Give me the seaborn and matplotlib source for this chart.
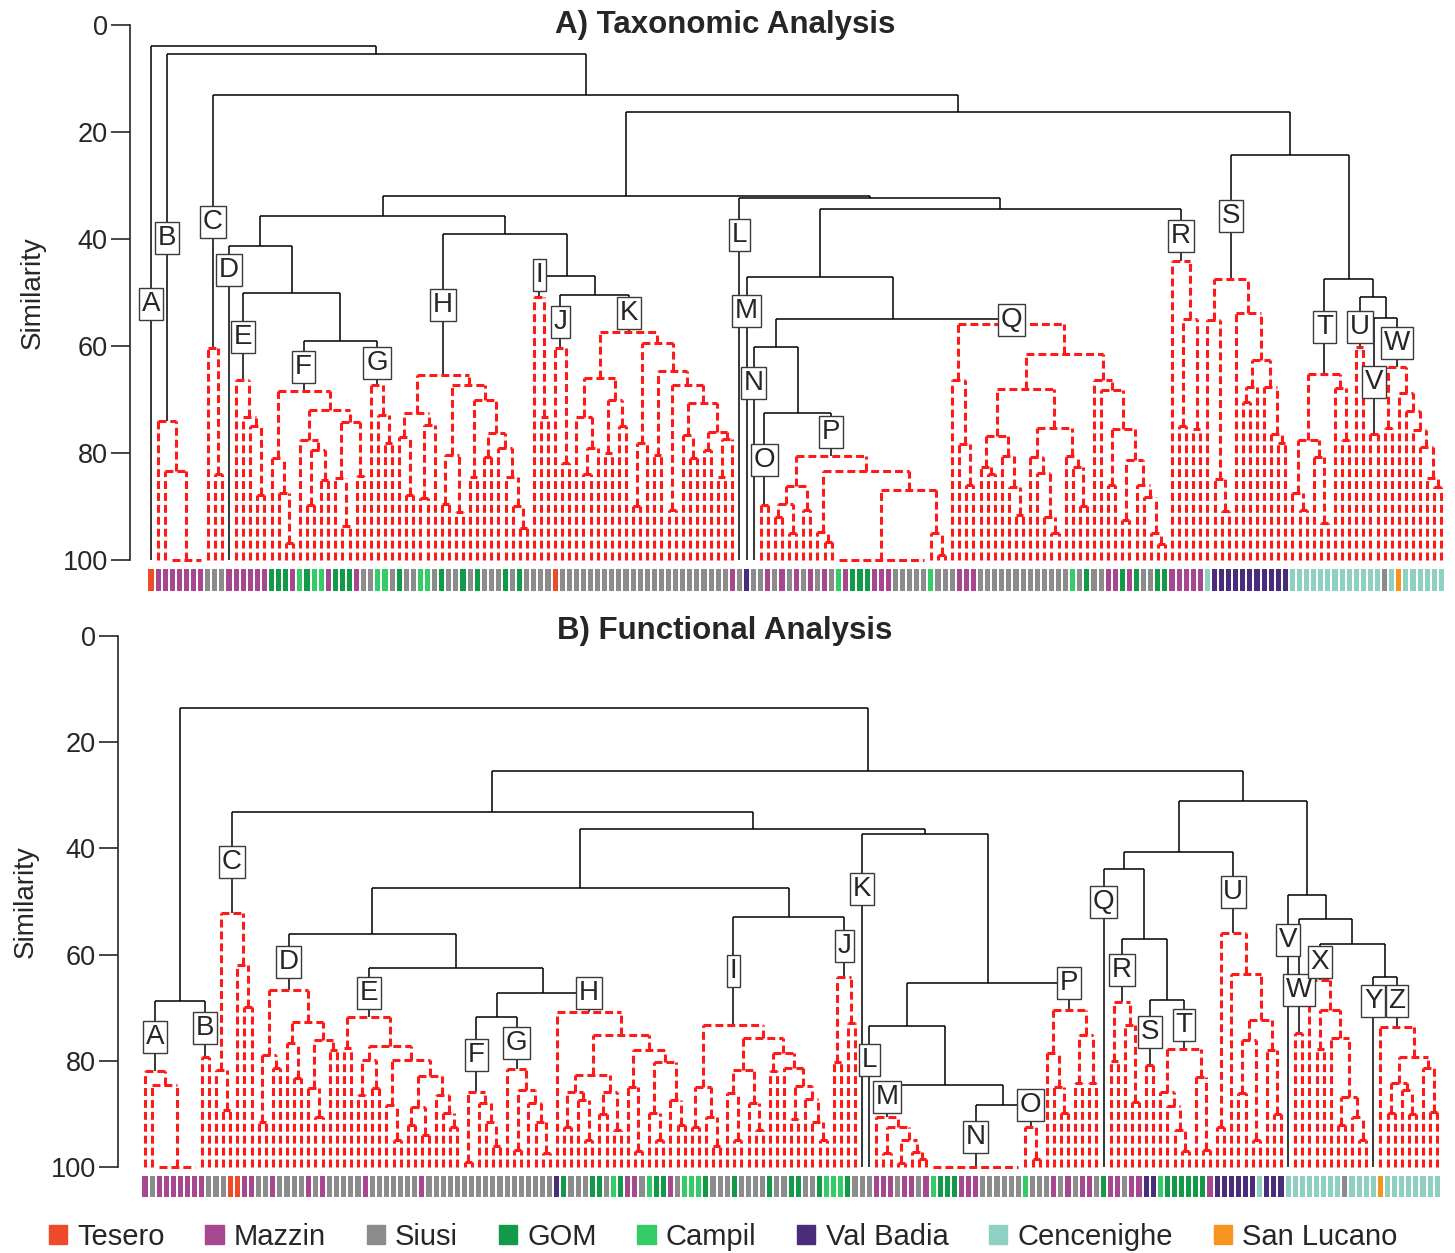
import numpy as np
import seaborn as sns
import matplotlib.pyplot as plt
from matplotlib.collections import LineCollection
from matplotlib.colors import ListedColormap
from matplotlib.patches import Patch

W, H = 1455, 1253

sites = ["Tesero", "Mazzin", "Siusi", "GOM", "Campil", "Val Badia", "Cencenighe", "San Lucano"]
site_codes = "TMSGCVEL"
site_colors = ["#EE4B2B", "#A6478F", "#8C8C8C", "#119A48", "#33CC66", "#4A2C7C", "#8ED0C2", "#F7941D"]

# ---- A) taxonomic dendrogram: groups left to right ----
tax_groups = list("ABCDEFGHIJKLMNOPQRSTUVW")
tax_sites = ["T", "MMMMMMM", "SSS", "M", "MMMMM", "GGGMCGCCMGGGMS", "SCCS",
             "GSSCCSGSSGSGSSSGSGS", "SSS", "TSS", "SSSSSSSSSSSSSSSSSSSSSSM",
             "S", "V", "S", "SM", "SMSMSMSMSCMGGGMMMSSSSSCSS",
             "SMMMSSSSSSSSSSSSSCSGSSMMGMGSSGG", "MMMMM", "EVVVVVVVVVVV",
             "EEEEEEEEE", "EE", "EE", "SELEEEEEE"]
# similarity at which neighbouring samples join, inside each group
tax_inner = [
    [],
    [74, 83.3, 100, 100, 100, 100],
    [60.3, 84],
    [],
    [66.4, 73.2, 75, 87.8],
    [81, 87.5, 96.9, 68.4, 77.6, 89.7, 79.5, 85, 72, 84.7, 93.6, 74.2, 84.3],
    [67.3, 72.9, 78.2],
    [77, 87.8, 72.6, 88.4, 74.7, 65.4, 89.5, 80.4, 91, 67.3, 84.4, 70, 80.7, 76.3, 79, 84.4, 90, 94],
    [50.8, 73.2],
    [60.4, 81.9],
    [73.2, 84, 79, 66, 80, 70, 75, 57.3, 90, 78.1, 59.5, 80.3, 64.6, 90.7, 67.3, 76.6, 81, 70.7,
     79.4, 76, 84.5, 77.3],
    [], [], [],
    [89.7],
    [92, 89.5, 94.9, 86.2, 90.7, 80.6, 94.7, 96.6, 83.3, 100, 100, 100, 100, 100, 100, 100, 100,
     100, 100, 100, 100, 86.9, 95, 99],
    [66.4, 78.4, 86, 55.9, 82.6, 84, 76.9, 80.6, 86.3, 91.6, 68.1, 80.7, 83.8, 91.9, 95, 75.4,
     80.6, 82.6, 90, 61.5, 66.4, 68.2, 86, 75.5, 92.5, 81.4, 86, 88.3, 94.9, 97],
    [44.2, 75, 55, 75.5],
    [55.1, 84.8, 90.9, 47.5, 53.9, 70.5, 67.6, 62.6, 67.6, 76.4, 78.2],
    [87.5, 90.6, 77.6, 80.7, 93, 65.2, 67.9, 77.6],
    [60.1],
    [76.4],
    [75.3, 63.9, 68.7, 72.1, 75.7, 78.8, 84.7, 86.3],
]
# similarity at which consecutive groups join
tax_between = [3.9, 5.4, 13.1, 41.3, 50.1, 59.1, 35.7, 39.1, 46.9, 50.5, 32.0, 32.3,
               47.1, 60.2, 72.5, 55.0, 34.4, 16.3, 24.3, 47.5, 50.8, 54.8]
tax_label_y = [52.1, 39.8, 36.8, 45.8, 58.3, 63.9, 63.2, 52.3, 46.7, 55.5, 53.8, 39.3,
               53.5, 66.9, 81.3, 76.1, 55.1, 39.4, 35.7, 56.4, 56.4, 66.7, 59.4]

# ---- B) functional dendrogram ----
fun_groups = list("ABCDEFGHIJKLMNOPQRSTUVWXYZ")
fun_sites = ["MSMMMMMM", "MS", "SSTTMM", "SSMSSSSMSMSS", "SSSMSSSSSSSMSSSSS", "SSSSSS",
             "SSSSSSS", "VGSSSGGSCGMMSCGGMSC", "CCGSSSGSSSSGSSGGSSGC", "CCGS", "S", "S",
             "MMMSMMSM", "CGGGMMMSSSSSS", "CSS", "SMSMSMMS", "G", "MMSMM", "VV", "CGGGGGGM",
             "VVVVVVEVVV", "E", "EE", "EEEEESEEE", "E", "LEEEEEEEE"]
fun_inner = [
    [82, 84.6, 100, 100, 100, 100, 100],
    [79.3],
    [81.7, 89.2, 52.2, 62, 69.9],
    [91.5, 78.9, 81.4, 66.7, 76.7, 83.3, 72.6, 85.2, 90.6, 76.1, 77.9],
    [77.6, 71.7, 86.5, 79.8, 85.2, 77.2, 88.4, 95, 79.8, 92, 88.7, 94, 82.9, 86.5, 89.9, 92.4],
    [99, 85.8, 88, 91.5, 96.1],
    [81.6, 96.8, 85.5, 88, 91.5, 97.4],
    [70.8, 92.4, 85.8, 87.3, 95, 82.7, 90, 85.8, 93, 75.2, 84.9, 97, 78, 89.9, 95, 80.2, 87.3, 92],
    [92.4, 84.9, 90.5, 96, 73.3, 86, 95, 81.7, 88, 93, 75.8, 82, 78.6, 81.3, 91, 84.7, 87.2, 91.5, 95],
    [80.2, 64.2, 72.9],
    [], [],
    [90.5, 97.4, 92.4, 99.3, 94.9, 97.1, 98.5],
    [100, 100, 100, 100, 100, 100, 100, 100, 100, 100, 100, 100],
    [92.4, 98.4],
    [78.6, 84.9, 89.9, 70.4, 84.2, 75.1, 84.2],
    [],
    [80.1, 68.9, 73.2, 87.7],
    [80.7],
    [85.8, 88.5, 93, 97, 77.8, 83, 96.8],
    [92.4, 56, 63.7, 86, 76, 95, 72.3, 78, 90],
    [],
    [74.8],
    [64.7, 77.8, 70.5, 75.8, 92.1, 86.8, 90.5, 95],
    [],
    [73.7, 89.9, 84.2, 85.5, 90, 79.3, 81.4, 89.6],
]
fun_between = [68.7, 13.6, 33.1, 56.1, 62.5, 71.8, 67.2, 47.5, 52.9, 36.3, 37.3, 73.4, 84.6,
               88.3, 65.3, 25.4, 43.9, 57.0, 68.5, 40.7, 31.1, 48.8, 53.3, 58.0, 64.2]
fun_label_y = [75.5, 73.8, 42.6, 61.4, 67.2, 78.9, 76.6, 67.2, 63.1, 58.4, 47.6, 79.8, 86.8,
               94.4, 88.3, 65.3, 50.1, 62.9, 74.6, 73.3, 48.2, 57.3, 66.7, 61.4, 68.7, 68.7]


def build(group_sites, inner, between):
    codes, gaps, gid = [], [], []
    for k, (s, g) in enumerate(zip(group_sites, inner)):
        if k:
            gaps.append(between[k - 1])
        codes.extend(site_codes.index(c) for c in s)
        gid.extend([k] * len(s))
        gaps.extend(g)
    return np.array(codes), np.array(gaps, float), np.array(gid)


def dendro(gaps, gid):
    black, red, stems = [], [], {}
    start = {g: np.flatnonzero(gid == g)[0] for g in np.unique(gid)}
    end = {g: np.flatnonzero(gid == g)[-1] for g in np.unique(gid)}

    def node(lo, hi):
        if lo == hi:
            x, h = float(lo), 100.0
        else:
            seg = gaps[lo:hi]
            h = seg.min()
            cuts = lo + 1 + np.flatnonzero(np.isclose(seg, h))
            edges = np.r_[lo, cuts, hi + 1]
            kids = [node(a, b - 1) for a, b in zip(edges[:-1], edges[1:])]
            x = (kids[0][0] + kids[-1][0]) / 2
            segs = red if gid[lo] == gid[hi] else black
            segs.append([(kids[0][0], h), (kids[-1][0], h)])
            segs.extend([(kx, kh), (kx, h)] for kx, kh in kids)
        if gid[lo] == gid[hi] and lo == start[gid[lo]] and hi == end[gid[hi]]:
            stems[gid[lo]] = x
        return x, h

    node(0, len(gid) - 1)
    return black, red, stems


sns.set_style("ticks")
plt.rcParams["font.family"] = ["Liberation Sans", "DejaVu Sans"]

fig = plt.figure(figsize=(W / 100, H / 100), dpi=100)


def px_axes(l, t, r, b):
    return fig.add_axes([l / W, 1 - b / H, (r - l) / W, (b - t) / H])


panels = [
    dict(names=tax_groups, sites=tax_sites, inner=tax_inner, between=tax_between,
         label_y=tax_label_y, title="A) Taxonomic Analysis", title_y=25,
         box=(130, 15, 1450, 565), x0=151, dx=7.09, y0=25, dy=5.35, strip=(568, 592),
         ylab=(46, 293)),
    dict(names=fun_groups, sites=fun_sites, inner=fun_inner, between=fun_between,
         label_y=fun_label_y, title="B) Functional Analysis", title_y=631,
         box=(118, 622, 1450, 1172), x0=145, dx=7.1, y0=636, dy=5.31, strip=(1175, 1198),
         ylab=(39, 902)),
]

cmap = ListedColormap(site_colors)

for p in panels:
    codes, gaps, gid = build(p["sites"], p["inner"], p["between"])
    black, red, stems = dendro(gaps, gid)
    l, t, r, b = p["box"]
    ax = px_axes(l, t, r, b)
    ax.add_collection(LineCollection(black, colors="black", linewidths=1.1, zorder=2))
    ax.add_collection(LineCollection(red, colors="#FF1A1A", linewidths=2.2,
                                     linestyles=[(0, (2.6, 1.3))], zorder=2))
    for k, name in enumerate(p["names"]):
        ax.text(stems[k], p["label_y"][k], name, ha="center", va="center", fontsize=20,
                zorder=5, bbox=dict(boxstyle="square,pad=0.1", fc="white", ec="#3a3a3a", lw=1.0))
    ax.set_xlim((l - p["x0"]) / p["dx"], (r - p["x0"]) / p["dx"])
    ax.set_ylim((b - p["y0"]) / p["dy"], (t - p["y0"]) / p["dy"])
    ax.set_yticks(range(0, 101, 20))
    ax.set_xticks([])
    ax.tick_params(axis="y", length=14, width=1.2, labelsize=19.5, pad=2, left=True)
    for side in ["top", "right", "bottom"]:
        ax.spines[side].set_visible(False)
    ax.spines["left"].set_bounds(0, 100)
    ax.spines["left"].set_linewidth(1.2)
    ax.set_ylabel("Similarity", fontsize=20)
    ax.yaxis.set_label_coords((p["ylab"][0] - l) / (r - l), 1 - (p["ylab"][1] - t) / (b - t))
    ax.patch.set_alpha(0)

    n = len(codes)
    st, sb = p["strip"]
    sax = px_axes(p["x0"] - p["dx"] / 2, st, p["x0"] + p["dx"] * (n - 0.5), sb)
    sns.heatmap(codes[None, :], ax=sax, cmap=cmap, vmin=-0.5, vmax=7.5, cbar=False,
                linewidths=1.4, linecolor="white", xticklabels=False, yticklabels=False)

    fig.text(725 / W, 1 - p["title_y"] / H, p["title"], ha="center", va="center",
             fontsize=22.5, fontweight="bold")

handles = [Patch(color=c) for c in site_colors]
fig.legend(handles, sites, loc="center", bbox_to_anchor=(0.497, 1 - 1237 / H), ncol=8,
           frameon=False, fontsize=21, handlelength=0.62, handleheight=0.62,
           handletextpad=0.35, columnspacing=1.4)

fig.savefig("out.png", dpi=100)
